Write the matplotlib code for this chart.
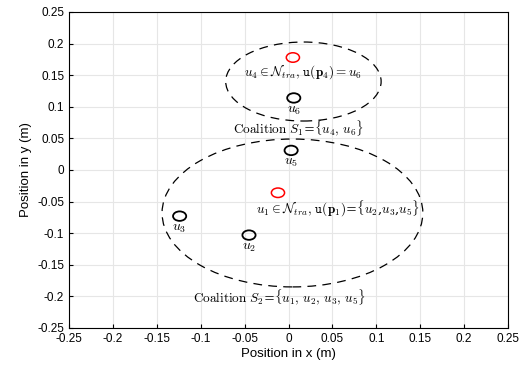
import matplotlib.pyplot as plt
from matplotlib.patches import Ellipse
import numpy as np

# user positions (m)
red_x = [0.005, -0.012]
red_y = [0.178, -0.036]
black_x = [0.006, 0.003, -0.124, -0.045]
black_y = [0.114, 0.031, -0.073, -0.103]
black_names = [r'$u_6$', r'$u_5$', r'$u_3$', r'$u_2$']
user_r = 0.0075

# coalition ellipses: centre x, centre y, width, height
coal_cx = [0.017, 0.0045]
coal_cy = [0.140, -0.068]
coal_w = [0.177, 0.297]
coal_h = [0.125, 0.234]

ticks = np.round(np.arange(-0.25, 0.26, 0.05), 2)
tick_labels = ['-0.25', '-0.2', '-0.15', '-0.1', '-0.05', '0',
               '0.05', '0.1', '0.15', '0.2', '0.25']

plt.rcParams['font.family'] = ['Liberation Sans', 'DejaVu Sans']
plt.rcParams['mathtext.fontset'] = 'cm'

fig = plt.figure(figsize=(5.29, 3.71), dpi=100)
ax = fig.add_axes([69 / 529, 1 - 328 / 371, 439 / 529, 316 / 371])

for cx, cy, w, h in zip(coal_cx, coal_cy, coal_w, coal_h):
    ax.add_patch(Ellipse((cx, cy), w, h, fill=False, edgecolor='black',
                         linestyle=(0, (7, 5)), linewidth=0.9, zorder=2))

# users drawn as circles in data units
for x, y in zip(black_x, black_y):
    ax.add_patch(Ellipse((x, y), 2 * user_r, 2 * user_r, fill=False,
                         edgecolor='black', linewidth=1.3, zorder=3))
for x, y in zip(red_x, red_y):
    ax.add_patch(Ellipse((x, y), 2 * user_r, 2 * user_r, fill=False,
                         edgecolor='red', linewidth=1.1, zorder=3))

for x, y, name in zip(black_x, black_y, black_names):
    ax.text(x, y - 0.019, name, ha='center', va='center', fontsize=10, zorder=4)

fs = 9.5
ax.text(0.017, 0.155, r'$u_4 \in \mathcal{N}_{tra},\, \mathtt{u}(\mathbf{p}_4) = u_6$',
        ha='center', va='center', fontsize=fs)
ax.text(0.012, 0.066, r'$\mathrm{Coalition}\ S_1$=$\{u_4,\, u_6\}$',
        ha='center', va='center', fontsize=fs, family='DejaVu Serif')
ax.text(0.056, -0.062,
        r'$u_1 \in \mathcal{N}_{tra},\, \mathtt{u}(\mathbf{p}_1)$=$\{u_2$,$u_3$,$u_5\}$',
        ha='center', va='center', fontsize=fs, family='DejaVu Serif')
ax.text(-0.010, -0.201, r'$\mathrm{Coalition}\ S_2$=$\{u_1,\, u_2,\, u_3,\, u_5\}$',
        ha='center', va='center', fontsize=fs, family='DejaVu Serif')

ax.set_xlim(-0.25, 0.25)
ax.set_ylim(-0.25, 0.25)
ax.set_xticks(ticks)
ax.set_xticklabels(tick_labels)
ax.set_yticks(ticks)
ax.set_yticklabels(tick_labels)
ax.tick_params(direction='in', labelsize=8.5, length=3, width=0.8)
ax.grid(True, color='#e6e6e6', linewidth=0.8)
ax.set_axisbelow(True)
for s in ax.spines.values():
    s.set_linewidth(0.8)
ax.set_xlabel('Position in x (m)', fontsize=9.5, labelpad=2)
ax.set_ylabel('Position in y (m)', fontsize=9.5, labelpad=4)

fig.savefig('out.png', dpi=100)
